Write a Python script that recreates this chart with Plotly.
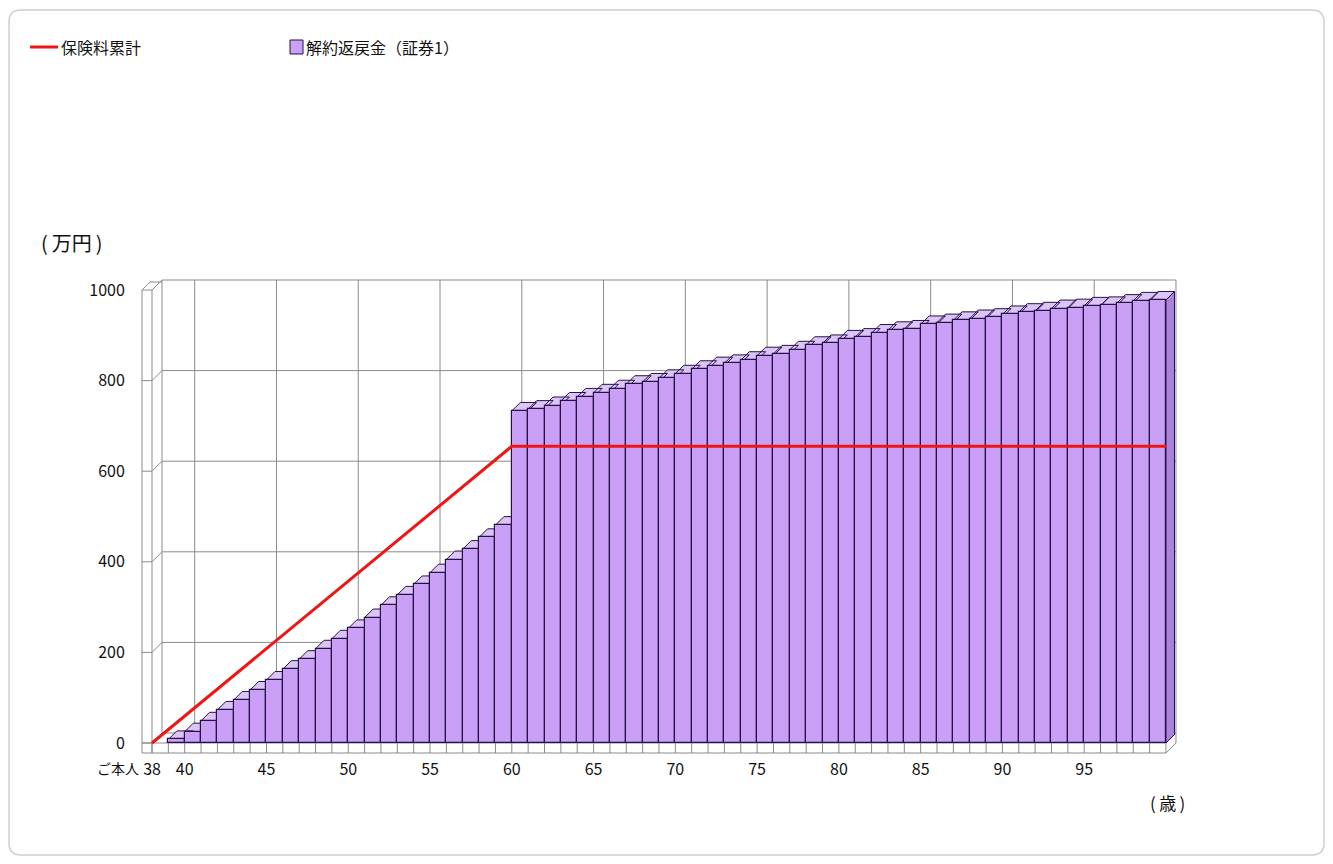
import plotly.graph_objects as go

# ---------------- data ----------------
ages = list(range(39, 100))
surrender = [8, 25, 49, 73, 95, 117, 139, 163, 185, 208, 230, 253, 277, 304, 327, 350, 376, 405, 428, 454, 481,
             733, 737, 745, 755, 764, 773, 782, 792, 797, 805, 815, 825, 833, 838, 845, 855, 859, 868, 878, 882,
             892, 896, 905, 911, 914, 924, 928, 933, 937, 940, 946, 951, 954, 959, 961, 965, 966, 971, 976, 978]
premium_ages = [38, 60, 100]
premium_total = [0, 655, 655]
x_tickvals = [38, 40, 45, 50, 55, 60, 65, 70, 75, 80, 85, 90, 95]
x_ticktext = [str(v) for v in x_tickvals]
y_tickvals = [0, 200, 400, 600, 800, 1000]
series_line_name = "保険料累計"
series_bar_name = "解約返戻金（証券1）"
y_unit_label = "(\u2009万円\u2009)"
x_unit_label = "(\u2009歳\u2009)"
person_label = "ご本人"

# ---------------- geometry ----------------
OFF = 8                                   # default page body margin
FW, FH = 1317, 848                        # figure size
L, R, T, B = 138, 1182, 274, 758          # plot area in page pixels
XR = [37.144, 100.98]
YR = [-33.11, 1035.32]
sx = (R - L) / (XR[1] - XR[0])
sy = (B - T) / (YR[1] - YR[0])
dxw, dyw = 10 / sx, 10 / sy               # depth of floor / walls
dxb, dyb = 8.5 / sx, 8.5 / sy             # depth of bars
wt, ft = 10 / sx, 10 / sy                 # wall / floor thickness
x0, x1 = 38, 100                          # first / last category edge


def px(xp, yp):
    """page pixel -> paper coordinates"""
    return (xp - L) / (R - L), (B - yp) / (B - T)


FRONT = "#C9A0F6"
TOP = "#DCC4F7"
SIDE = "#A983DA"
EDGE = "#25104A"
GRID = "#8a8a8a"

# ---------------- walls, floor and grid ----------------
gx, gy = [], []


def seg(pts):
    for p in pts:
        gx.append(p[0]); gy.append(p[1])
    gx.append(None); gy.append(None)


for v in y_tickvals:
    seg([(x0 + dxw, v + dyw), (x1 + dxw, v + dyw)])
for a in x_tickvals[1:]:
    seg([(a + dxw, dyw), (a + dxw, 1000 + dyw)])
seg([(x0 + dxw, dyw), (x0 + dxw, 1000 + dyw)])
seg([(x1 + dxw, dyw), (x1 + dxw, 1000 + dyw)])
# left wall
seg([(x0 - wt, -ft), (x0 - wt, 1000)])
seg([(x0, -ft), (x0, 1000)])
seg([(x0 - wt, 1000), (x0 - wt + dxw * 0.8, 1000 + dyw * 0.8), (x0 + dxw, 1000 + dyw * 0.8)])
for v in y_tickvals:
    seg([(x0 - wt, v), (x0, v), (x0 + dxw, v + dyw)])
# floor
seg([(x0 - wt, 0), (x1, 0)])
seg([(x0 - wt, -ft), (x1, -ft)])
for a in range(x0, x1 + 1):
    seg([(a, -ft), (a, 0)])
seg([(x1, -ft), (x1 + dxw, -ft + dyw), (x1 + dxw, dyw), (x1, 0)])

# ---------------- 3D faces of bars ----------------
sxs, sys_, txs, tys = [], [], [], []
for a, v in zip(ages, surrender):
    for xx, yy in [(a + 1, 0), (a + 1 + dxb, dyb), (a + 1 + dxb, v + dyb), (a + 1, v), (a + 1, 0)]:
        sxs.append(xx); sys_.append(yy)
    sxs.append(None); sys_.append(None)
    for xx, yy in [(a, v), (a + dxb, v + dyb), (a + 1 + dxb, v + dyb), (a + 1, v), (a, v)]:
        txs.append(xx); tys.append(yy)
    txs.append(None); tys.append(None)

fig = go.Figure()
fig.add_trace(go.Scatter(x=gx, y=gy, mode="lines", line=dict(color=GRID, width=1),
                         hoverinfo="skip", showlegend=False, xaxis="x", yaxis="y"))
fig.add_trace(go.Scatter(x=sxs, y=sys_, mode="lines", fill="toself", fillcolor=SIDE,
                         line=dict(color=EDGE, width=1), hoverinfo="skip", showlegend=False,
                         xaxis="x", yaxis="y"))
fig.add_trace(go.Scatter(x=txs, y=tys, mode="lines", fill="toself", fillcolor=TOP,
                         line=dict(color=EDGE, width=1), hoverinfo="skip", showlegend=False,
                         xaxis="x", yaxis="y"))
fig.add_trace(go.Bar(x=ages, y=surrender, width=1, offset=0, name=series_bar_name,
                     marker=dict(color=FRONT, line=dict(color=EDGE, width=1.2)),
                     showlegend=False, xaxis="x2", yaxis="y2"))
fig.add_trace(go.Scatter(x=premium_ages, y=premium_total, mode="lines", name=series_line_name,
                         line=dict(color="#F01414", width=3), showlegend=False,
                         xaxis="x3", yaxis="y3"))

font_family = "Noto Sans CJK JP, Noto Sans, sans-serif"
axis_common = dict(range=XR, showgrid=False, zeroline=False, showline=False)
yaxis_common = dict(range=YR, showgrid=False, zeroline=False, showline=False)

fig.update_layout(
    width=FW, height=FH, autosize=False,
    margin=dict(l=L - OFF, r=FW - (R - OFF), t=T - OFF, b=FH - (B - OFF), pad=0),
    paper_bgcolor="white", plot_bgcolor="rgba(0,0,0,0)",
    font=dict(family=font_family, size=16, color="#111111"),
    bargap=0,
    xaxis=dict(**axis_common, tickmode="array", tickvals=x_tickvals, ticktext=x_ticktext,
               ticks="", tickfont=dict(size=16)),
    yaxis=dict(**yaxis_common, tickmode="array", tickvals=y_tickvals,
               ticks="outside", ticklen=9, tickcolor="rgba(0,0,0,0)", tickfont=dict(size=16)),
    xaxis2=dict(**axis_common, overlaying="x", visible=False),
    yaxis2=dict(**yaxis_common, overlaying="y", visible=False),
    xaxis3=dict(**axis_common, overlaying="x", visible=False),
    yaxis3=dict(**yaxis_common, overlaying="y", visible=False),
)


# ---------------- texts ----------------
def ann(text, xp, yp, xanchor="left", size=16):
    xx, yy = px(xp, yp)
    fig.add_annotation(text=text, x=xx, y=yy, xref="paper", yref="paper", showarrow=False,
                       xanchor=xanchor, yanchor="middle",
                       font=dict(size=size, family=font_family, color="#111111"))


ann(y_unit_label, 72, 243, xanchor="center", size=20)
ann(person_label, 141, 768, xanchor="right", size=14)
ann(x_unit_label, 1167, 802, xanchor="center", size=17)

# legend
lx0, ly = px(30, 47)
lx1, _ = px(58, 47)
fig.add_shape(type="line", xref="paper", yref="paper", x0=lx0, x1=lx1, y0=ly, y1=ly,
              line=dict(color="#F01414", width=3))
ann(series_line_name, 59, 47)
sq0x, sq0y = px(290, 54)
sq1x, sq1y = px(303, 40)
fig.add_shape(type="rect", xref="paper", yref="paper", x0=sq0x, y0=sq0y, x1=sq1x, y1=sq1y,
              fillcolor=FRONT, line=dict(color=EDGE, width=1))
ann(series_bar_name, 304, 47)

# outer rounded frame
fx0, fy0 = px(9, 855)
fx1, fy1 = px(1324, 10)
rx = 12 / (R - L)
ry = 12 / (B - T)
path = (f"M {fx0 + rx} {fy0} L {fx1 - rx} {fy0} Q {fx1} {fy0} {fx1} {fy0 + ry} "
        f"L {fx1} {fy1 - ry} Q {fx1} {fy1} {fx1 - rx} {fy1} "
        f"L {fx0 + rx} {fy1} Q {fx0} {fy1} {fx0} {fy1 - ry} "
        f"L {fx0} {fy0 + ry} Q {fx0} {fy0} {fx0 + rx} {fy0} Z")
fig.add_shape(type="path", xref="paper", yref="paper", path=path,
              line=dict(color="#cfcfcf", width=1.5), layer="below")

fig.write_html("out.html")
